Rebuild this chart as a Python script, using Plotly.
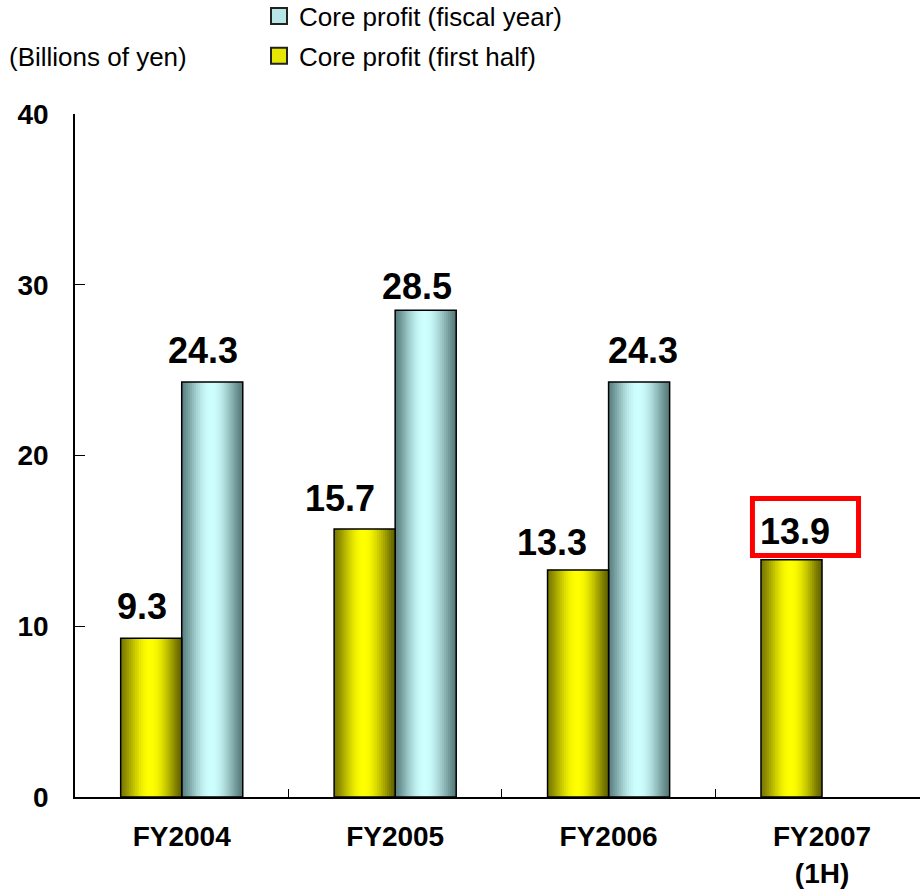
import math
import plotly.graph_objects as go

categories = ["FY2004", "FY2005", "FY2006", "FY2007<br>(1H)"]
first_half = [9.3, 15.7, 13.3, 13.9]
fiscal_year = [24.3, 28.5, 24.3, None]
y_ticks = [0, 10, 20, 30, 40]
name_fiscal = "Core profit (fiscal year)"
name_half = "Core profit (first half)"

# label placement tweaks (pixels), as in the original slide
half_label_dx = [-9.5, -24.5, -26, 3]
half_label_gap = [18, 17, 14, 15]
fiscal_label_dx = [-9.5, -8.5, 4, 0]
fiscal_label_gap = [18, 10, 18, 0]

FONT = "Liberation Sans, Arial, sans-serif"
BW = 0.286          # bar width in category units
NSTRIP = 30
LABEL_SIZE = 36


def grad(t, left, right, bright, peak=0.48, power=1.3):
    if t <= peak:
        u = t / peak
    else:
        u = (1 - t) / (1 - peak)
    f = math.sin(math.pi * u / 2) ** power
    edge = [l + (r - l) * t for l, r in zip(left, right)]
    c = [e + (b - e) * f for e, b in zip(edge, bright)]
    return "rgb(%d,%d,%d)" % tuple(int(round(v)) for v in c)


series = [
    dict(name=name_fiscal, y=fiscal_year, offset=0.0, solid="#b8e6e6",
         left=(90, 128, 128), right=(86, 120, 120), bright=(206, 255, 255), grp="a",
         dx=fiscal_label_dx, gap=fiscal_label_gap),
    dict(name=name_half, y=first_half, offset=-BW, solid="#e6e600",
         left=(120, 120, 0), right=(96, 96, 0), bright=(255, 255, 0), grp="b",
         dx=half_label_dx, gap=half_label_gap),
]

fig = go.Figure()
for s in series:
    # legend entry (square symbol)
    fig.add_trace(go.Scatter(
        x=[None], y=[None], mode="markers", name=s["name"], legendgroup=s["grp"],
        marker=dict(symbol="square", size=16, color=s["solid"],
                    line=dict(color="#222222", width=2)),
        showlegend=True, hoverinfo="skip",
    ))
    # gradient strips
    step = BW / NSTRIP
    for k in range(NSTRIP):
        t = (k + 0.5) / NSTRIP
        off = s["offset"] + k * step
        w = min(step * 1.6, s["offset"] + BW - off)
        fig.add_trace(go.Bar(
            x=categories, y=s["y"], offset=off, width=w,
            marker=dict(color=grad(t, s["left"], s["right"], s["bright"]), line=dict(width=0)),
            showlegend=False, legendgroup=s["grp"], hoverinfo="skip",
        ))
    # outline
    fig.add_trace(go.Bar(
        x=categories, y=s["y"], offset=s["offset"], width=BW,
        marker=dict(color="rgba(0,0,0,0)", line=dict(color="black", width=1.5)),
        showlegend=False, legendgroup=s["grp"], name=s["name"],
    ))
    # value labels
    for i, v in enumerate(s["y"]):
        if v is None:
            continue
        fig.add_annotation(
            x=i + s["offset"] + BW / 2, y=v, xref="x", yref="y",
            text="%.1f" % v, showarrow=False, xanchor="center", yanchor="bottom",
            xshift=s["dx"][i], yshift=s["gap"][i] - 9,
            font=dict(family=FONT, size=LABEL_SIZE, color="black", weight="bold"),
        )

# red highlight box around latest first-half value
fig.add_shape(type="rect", xref="x", yref="y",
              x0=3 - BW - 0.04, x1=3 + 0.171, y0=first_half[3] + 0.24, y1=first_half[3] + 3.58,
              line=dict(color="#ff0000", width=5), fillcolor="rgba(0,0,0,0)", layer="above")

fig.add_annotation(text="(Billions of yen)", xref="paper", yref="paper",
                   x=-0.0805, y=1.0835, xanchor="left", yanchor="middle", showarrow=False,
                   font=dict(family=FONT, size=26, color="black"))

fig.update_layout(
    width=920, height=892,
    margin=dict(l=75, r=0, t=114, b=95, autoexpand=False),
    paper_bgcolor="white", plot_bgcolor="white",
    barmode="overlay",
    showlegend=True,
    legend=dict(x=(259 - 75) / 845, y=1 + 121.5 / 683, xanchor="left", yanchor="top",
                font=dict(family=FONT, size=26, color="black"),
                traceorder="grouped", tracegroupgap=3, bgcolor="rgba(0,0,0,0)"),
    font=dict(family=FONT, color="black"),
    xaxis=dict(type="category", range=[-0.5, (920 - 181.5) / 213.5], showline=True,
               linecolor="black", linewidth=1.5, ticks="inside", ticklen=8,
               tickcolor="black", tickson="boundaries", showgrid=False, automargin=False,
               tickfont=dict(family=FONT, size=28, color="black", weight="bold"),
               ticklabelstandoff=14),
    yaxis=dict(range=[0, 40], tickvals=y_ticks, showline=True, linecolor="black",
               linewidth=1.5, ticks="inside", ticklen=10, tickcolor="black",
               showgrid=False, zeroline=False, automargin=False,
               tickfont=dict(family=FONT, size=28, color="black", weight="bold"),
               ticklabelstandoff=19),
)

fig.write_html("out.html")
